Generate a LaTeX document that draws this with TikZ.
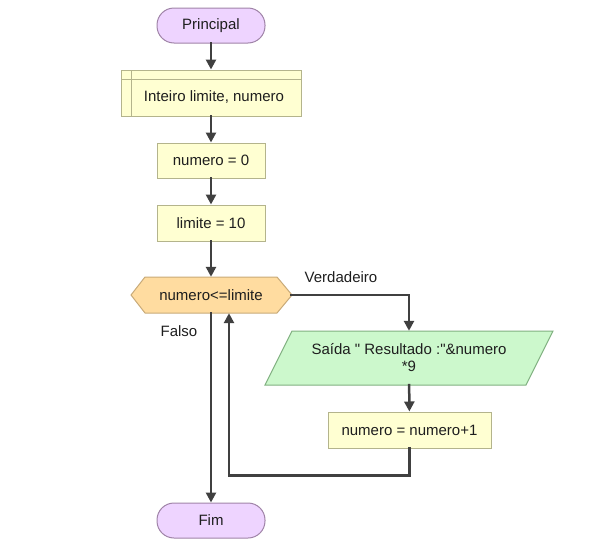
\documentclass[tikz,border=0pt]{standalone}
\usepackage{fontspec}
\setmainfont{Liberation Sans}[Ligatures=TeXOff]
\usetikzlibrary{arrows.meta}
\begin{document}
\begin{tikzpicture}[x=1pt,y=-1pt,line cap=rect,
  font=\fontsize{15pt}{17pt}\selectfont,
  terminal/.style={draw=custcol_a0_84_a8, fill=custcol_ee_d4_ff, line width=1pt, rounded corners=17pt, minimum width=108pt, minimum height=35pt, inner sep=0, text=custcol_1e_1e_1e},
  procbox/.style={draw=custcol_b4_b4_8c, fill=custcol_ff_ff_d2, line width=1pt, minimum height=36pt, inner sep=0, text=custcol_1e_1e_1e},
  shapetext/.style={inner sep=0, text=custcol_1e_1e_1e},
  flow/.style={line width=2.5pt, custcol_40_40_40, -{Triangle[width=10pt,length=10pt]}},
  lbl/.style={inner sep=0, text=custcol_1e_1e_1e}]
\definecolor{custcol_40_40_40}{RGB}{64, 64, 64}
\definecolor{custcol_1e_1e_1e}{RGB}{30, 30, 30}
\definecolor{custcol_ee_d4_ff}{RGB}{238, 212, 255}
\definecolor{custcol_a0_84_a8}{RGB}{160, 132, 168}
\definecolor{custcol_ff_ff_d2}{RGB}{255, 255, 210}
\definecolor{custcol_b4_b4_8c}{RGB}{180, 180, 140}
\definecolor{custcol_ff_dc_a0}{RGB}{255, 220, 160}
\definecolor{custcol_c8_aa_78}{RGB}{200, 170, 120}
\definecolor{custcol_cc_f8_cc}{RGB}{204, 248, 204}
\definecolor{custcol_80_b0_80}{RGB}{128, 176, 128}
\useasboundingbox (0,0) rectangle (614,557);
% blocks
\node[terminal] (principal) at (211,25.5) {Principal};
\node[procbox, minimum width=180pt, minimum height=46pt] (decl) at (211,93) {};
\draw [line width=1pt, custcol_b4_b4_8c ]  (121,79) -- (301,79) ;
\draw [line width=1pt, custcol_b4_b4_8c ]  (131,70) -- (131,116) ;
\node[shapetext] (decltxt) at (214,97.5) {Inteiro limite, numero};
\node[procbox, minimum width=108pt, minimum height=35pt] (zero) at (211,160.5) {numero = 0};
\node[procbox, minimum width=108pt] (limit) at (211,223) {limite = 10};
\draw [line width=1pt, draw=custcol_c8_aa_78, fill=custcol_ff_dc_a0 ]  (131,295) -- (145,277) -- (277,277) -- (292,295) -- (277,313) -- (145,313) -- cycle ;
\node[shapetext, minimum width=161pt, minimum height=36pt] (cond) at (211,295) {numero<=limite};
\draw [line width=1pt, draw=custcol_80_b0_80, fill=custcol_cc_f8_cc ]  (292,331) -- (553,331) -- (526,385) -- (265,385) -- cycle ;
\node[shapetext, minimum width=261pt, minimum height=54pt, align=center] (saida) at (409,358) {Saída " Resultado :"\&numero\\*9};
\node[procbox, minimum width=163pt] (incr) at (409.5,430) {numero = numero+1};
\node[terminal] (fim) at (211,520.5) {Fim};
% labels
\node[lbl] (verd) at (341,277) {Verdadeiro};
\node[lbl] (falso) at (179,331) {Falso};
% connectors
\draw [flow] (principal) -- (decl);
\draw [flow] (decl) -- (zero);
\draw [flow] (zero) -- (limit);
\draw [flow] (limit) -- (cond);
\draw [flow] (cond.east) -| (saida);
\draw [flow] (saida) -- (incr);
\draw [flow] (incr.south) -- ++(0,27) -| ([xshift=18pt]cond.south);
\draw [flow] (cond.south) -- (fim);
\end{tikzpicture}
\end{document}
